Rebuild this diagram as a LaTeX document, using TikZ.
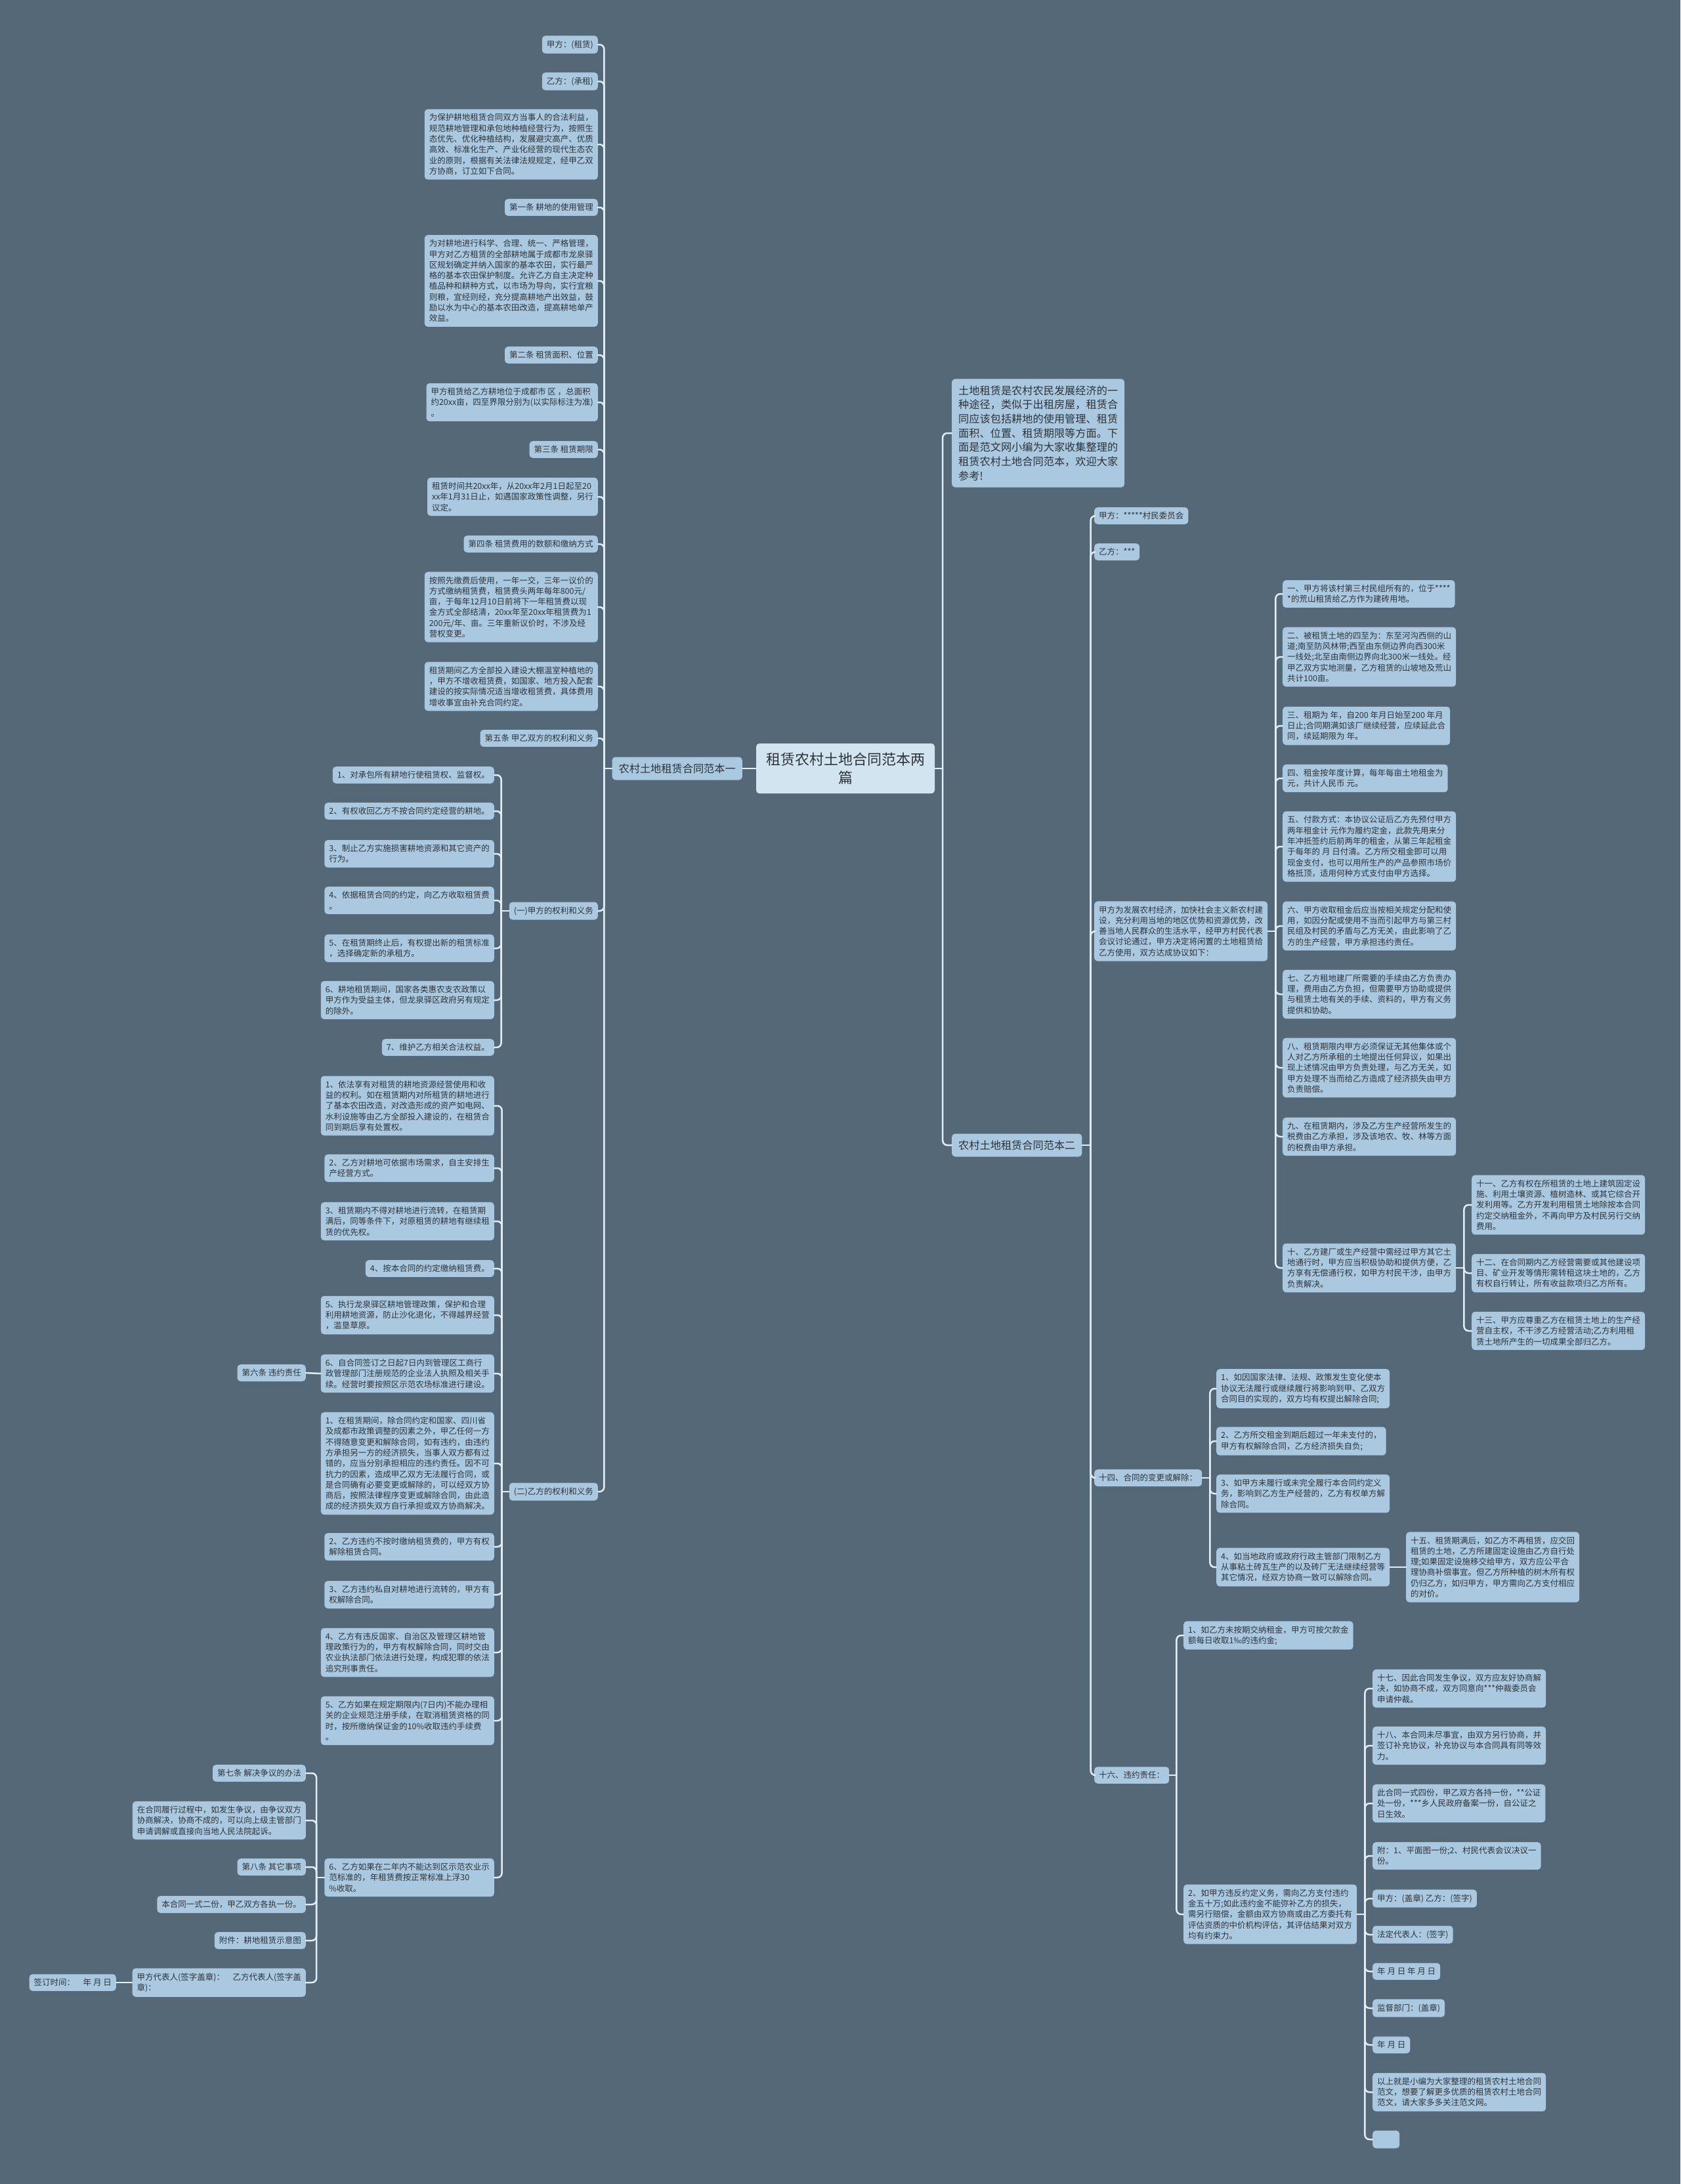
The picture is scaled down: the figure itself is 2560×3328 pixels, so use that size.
\documentclass[tikz,border=0pt]{standalone}
\usepackage{fontspec}
\setmainfont{Noto Sans CJK SC}
\usepackage{tikz}
\usetikzlibrary{positioning}
\definecolor{bgslate}{HTML}{556878}
\definecolor{boxblue}{HTML}{AAC8E0}
\definecolor{rootblue}{HTML}{D3E4F1}
\definecolor{linkwhite}{HTML}{E2EEF5}
\definecolor{inkgrey}{HTML}{2E3338}

\begin{document}
\begin{tikzpicture}[
  x=1pt, y=-1pt,
  leafbox/.style={fill=boxblue, rounded corners=5pt, align=left, text=inkgrey,
    inner xsep=7pt, inner ysep=7pt, font=\fontsize{12.5}{16.3}\selectfont},
  topicbox/.style={leafbox, inner xsep=10pt, inner ysep=10pt,
    font=\fontsize{16.2}{21.7}\selectfont},
  rootbox/.style={leafbox, fill=rootblue, align=center, inner xsep=15pt,
    inner ysep=14pt, font=\fontsize{22}{28}\selectfont},
  link/.style={draw=linkwhite, line width=2.5pt, rounded corners=7pt, line cap=round}
]
  \useasboundingbox (0,0) rectangle (2560,3328);
  \fill[bgslate] (0,0) rectangle (2560,3328);

  % Root and main branches
  \node[rootbox] (root) at (1288,1171) {租赁农村土地合同范本两\\篇};
  \node[topicbox, anchor=east] (fbone) at (1131,1171) {农村土地租赁合同范本一};
  \node[topicbox, anchor=west] (intro) at (1450,660) {土地租赁是农村农民发展经济的一\\种途径，类似于出租房屋，租赁合\\同应该包括耕地的使用管理、租赁\\面积、位置、租赁期限等方面。下\\面是范文网小编为大家收集整理的\\租赁农村土地合同范本，欢迎大家\\参考!};
  \node[topicbox, anchor=west] (fbtwo) at (1450,1745) {农村土地租赁合同范本二};

  % Left: clauses of contract one
  \node[leafbox, anchor=east] (lA) at (911,68) {甲方：(租赁)};
  \node[leafbox, anchor=east] (lB) at (911,124) {乙方：(承租)};
  \node[leafbox, anchor=east] (lC) at (911,220) {为保护耕地租赁合同双方当事人的合法利益，\\规范耕地管理和承包地种植经营行为，按照生\\态优先、优化种植结构，发展避灾高产、优质\\高效、标准化生产、产业化经营的现代生态农\\业的原则，根据有关法律法规规定，经甲乙双\\方协商，订立如下合同。};
  \node[leafbox, anchor=east] (lD) at (911,316) {第一条 耕地的使用管理};
  \node[leafbox, anchor=east] (lE) at (911,428) {为对耕地进行科学、合理、统一、严格管理，\\甲方对乙方租赁的全部耕地属于成都市龙泉驿\\区规划确定并纳入国家的基本农田，实行最严\\格的基本农田保护制度。允许乙方自主决定种\\植品种和耕种方式，以市场为导向，实行宜粮\\则粮，宜经则经，充分提高耕地产出效益，鼓\\励以水为中心的基本农田改造，提高耕地单产\\效益。};
  \node[leafbox, anchor=east] (lF) at (911,541) {第二条 租赁面积、位置};
  \node[leafbox, anchor=east] (lG) at (911,613) {甲方租赁给乙方耕地位于成都市 区 ，总面积\\约20xx亩，四至界限分别为(以实际标注为准)\\。};
  \node[leafbox, anchor=east] (lH) at (911,685) {第三条 租赁期限};
  \node[leafbox, anchor=east] (lI) at (911,757) {租赁时间共20xx年，从20xx年2月1日起至20\\xx年1月31日止，如遇国家政策性调整，另行\\议定。};
  \node[leafbox, anchor=east] (lJ) at (911,829) {第四条 租赁费用的数额和缴纳方式};
  \node[leafbox, anchor=east] (lK) at (911,925) {按照先缴费后使用，一年一交，三年一议价的\\方式缴纳租赁费，租赁费头两年每年800元/\\亩，于每年12月10日前将下一年租赁费以现\\金方式全部结清，20xx年至20xx年租赁费为1\\200元/年、亩。三年重新议价时，不涉及经\\营权变更。};
  \node[leafbox, anchor=east] (lL) at (911,1046) {租赁期间乙方全部投入建设大棚温室种植地的\\，甲方不增收租赁费，如国家、地方投入配套\\建设的按实际情况适当增收租赁费，具体费用\\增收事宜由补充合同约定。};
  \node[leafbox, anchor=east] (lM) at (911,1125) {第五条 甲乙双方的权利和义务};
  \node[leafbox, anchor=east] (lN) at (911,1388) {(一)甲方的权利和义务};
  \node[leafbox, anchor=east] (lO) at (911,2273) {(二)乙方的权利和义务};

  % (一) items
  \node[leafbox, anchor=east] (aA) at (753,1181) {1、对承包所有耕地行使租赁权、监督权。};
  \node[leafbox, anchor=east] (aB) at (753,1236) {2、有权收回乙方不按合同约定经营的耕地。};
  \node[leafbox, anchor=east] (aC) at (753,1301) {3、制止乙方实施损害耕地资源和其它资产的\\行为。};
  \node[leafbox, anchor=east] (aD) at (753,1372) {4、依据租赁合同的约定，向乙方收取租赁费\\。};
  \node[leafbox, anchor=east] (aE) at (753,1445) {5、在租赁期终止后，有权提出新的租赁标准\\，选择确定新的承租方。};
  \node[leafbox, anchor=east] (aF) at (753,1524) {6、耕地租赁期间，国家各类惠农支农政策以\\甲方作为受益主体，但龙泉驿区政府另有规定\\的除外。};
  \node[leafbox, anchor=east] (aG) at (753,1596) {7、维护乙方相关合法权益。};

  % (二) items
  \node[leafbox, anchor=east] (bA) at (753,1685) {1、依法享有对租赁的耕地资源经营使用和收\\益的权利。如在租赁期内对所租赁的耕地进行\\了基本农田改造，对改造形成的资产如电网、\\水利设施等由乙方全部投入建设的，在租赁合\\同到期后享有处置权。};
  \node[leafbox, anchor=east] (bB) at (753,1780) {2、乙方对耕地可依据市场需求，自主安排生\\产经营方式。};
  \node[leafbox, anchor=east] (bC) at (753,1861) {3、租赁期内不得对耕地进行流转，在租赁期\\满后，同等条件下，对原租赁的耕地有继续租\\赁的优先权。};
  \node[leafbox, anchor=east] (bD) at (753,1933) {4、按本合同的约定缴纳租赁费。};
  \node[leafbox, anchor=east] (bE) at (753,2004) {5、执行龙泉驿区耕地管理政策，保护和合理\\利用耕地资源，防止沙化退化，不得越界经营\\，滥垦草原。};
  \node[leafbox, anchor=east] (bF) at (753,2093) {6、自合同签订之日起7日内到管理区工商行\\政管理部门注册规范的企业法人执照及相关手\\续。经营时要按照区示范农场标准进行建设。};
  \node[leafbox, anchor=east] (bG) at (753,2230) {1、在租赁期间，除合同约定和国家、四川省\\及成都市政策调整的因素之外，甲乙任何一方\\不得随意变更和解除合同，如有违约，由违约\\方承担另一方的经济损失，当事人双方都有过\\错的，应当分别承担相应的违约责任。因不可\\抗力的因素，造成甲乙双方无法履行合同，或\\是合同确有必要变更或解除的，可以经双方协\\商后，按照法律程序变更或解除合同，由此造\\成的经济损失双方自行承担或双方协商解决。};
  \node[leafbox, anchor=east] (bH) at (753,2357) {2、乙方违约不按时缴纳租赁费的，甲方有权\\解除租赁合同。};
  \node[leafbox, anchor=east] (bI) at (753,2430) {3、乙方违约私自对耕地进行流转的，甲方有\\权解除合同。};
  \node[leafbox, anchor=east] (bJ) at (753,2518) {4、乙方有违反国家、自治区及管理区耕地管\\理政策行为的，甲方有权解除合同，同时交由\\农业执法部门依法进行处理，构成犯罪的依法\\追究刑事责任。};
  \node[leafbox, anchor=east] (bK) at (753,2622) {5、乙方如果在规定期限内(7日内)不能办理相\\关的企业规范注册手续，在取消租赁资格的同\\时，按所缴纳保证金的10\%收取违约手续费\\。};
  \node[leafbox, anchor=east] (bL) at (753,2861) {6、乙方如果在二年内不能达到区示范农业示\\范标准的，年租赁费按正常标准上浮30\\\%收取。};

  % far left
  \node[leafbox, anchor=east] (cA) at (466,2092) {第六条 违约责任};
  \node[leafbox, anchor=east] (cB) at (466,2702) {第七条 解决争议的办法};
  \node[leafbox, anchor=east] (cC) at (466,2774) {在合同履行过程中，如发生争议，由争议双方\\协商解决，协商不成的，可以向上级主管部门\\申请调解或直接向当地人民法院起诉。};
  \node[leafbox, anchor=east] (cD) at (466,2845) {第八条 其它事项};
  \node[leafbox, anchor=east] (cE) at (466,2902) {本合同一式二份，甲乙双方各执一份。};
  \node[leafbox, anchor=east] (cF) at (466,2957) {附件：耕地租赁示意图};
  \node[leafbox, anchor=east] (cG) at (466,3021) {甲方代表人(签字盖章)：　乙方代表人(签字盖\\章)：};
  \node[leafbox, anchor=east] (cH) at (177,3021) {签订时间：　年 月 日};

  % Right: contract two
  \node[leafbox, anchor=west] (rA) at (1667,786) {甲方：*****村民委员会};
  \node[leafbox, anchor=west] (rB) at (1667,841) {乙方：***};
  \node[leafbox, anchor=west] (rC) at (1667,1419) {甲方为发展农村经济，加快社会主义新农村建\\设，充分利用当地的地区优势和资源优势，改\\善当地人民群众的生活水平，经甲方村民代表\\会议讨论通过，甲方决定将闲置的土地租赁给\\乙方使用，双方达成协议如下：};
  \node[leafbox, anchor=west] (rD) at (1667,2252) {十四、合同的变更或解除：};
  \node[leafbox, anchor=west] (rE) at (1667,2705) {十六、违约责任：};

  \node[leafbox, anchor=west] (sA) at (1954,905) {一、甲方将该村第三村民组所有的，位于****\\*的荒山租赁给乙方作为建砖用地。};
  \node[leafbox, anchor=west] (sB) at (1954,1001) {二、被租赁土地的四至为：东至河沟西侧的山\\道;南至防风林带;西至由东侧边界向西300米\\一线处;北至由南侧边界向北300米一线处。经\\甲乙双方实地测量，乙方租赁的山坡地及荒山\\共计100亩。};
  \node[leafbox, anchor=west] (sC) at (1954,1106) {三、租期为 年，自200 年月日始至200 年月\\日止;合同期满如该厂继续经营，应续延此合\\同，续延期限为 年。};
  \node[leafbox, anchor=west] (sD) at (1954,1186) {四、租金按年度计算，每年每亩土地租金为\\元，共计人民币 元。};
  \node[leafbox, anchor=west] (sE) at (1954,1290) {五、付款方式：本协议公证后乙方先预付甲方\\两年租金计 元作为履约定金，此款先用来分\\年冲抵签约后前两年的租金，从第三年起租金\\于每年的 月 日付清。乙方所交租金即可以用\\现金支付，也可以用所生产的产品参照市场价\\格抵顶，适用何种方式支付由甲方选择。};
  \node[leafbox, anchor=west] (sF) at (1954,1411) {六、甲方收取租金后应当按相关规定分配和使\\用，如因分配或使用不当而引起甲方与第三村\\民组及村民的矛盾与乙方无关，由此影响了乙\\方的生产经营，甲方承担违约责任。};
  \node[leafbox, anchor=west] (sG) at (1954,1515) {七、乙方租地建厂所需要的手续由乙方负责办\\理，费用由乙方负担，但需要甲方协助或提供\\与租赁土地有关的手续、资料的，甲方有义务\\提供和协助。};
  \node[leafbox, anchor=west] (sH) at (1954,1627) {八、租赁期限内甲方必须保证无其他集体或个\\人对乙方所承租的土地提出任何异议，如果出\\现上述情况由甲方负责处理，与乙方无关，如\\甲方处理不当而给乙方造成了经济损失由甲方\\负责赔偿。};
  \node[leafbox, anchor=west] (sI) at (1954,1732) {九、在租赁期内，涉及乙方生产经营所发生的\\税费由乙方承担，涉及该地农、牧、林等方面\\的税费由甲方承担。};
  \node[leafbox, anchor=west] (sJ) at (1954,1932) {十、乙方建厂或生产经营中需经过甲方其它土\\地通行时，甲方应当积极协助和提供方便，乙\\方享有无偿通行权，如甲方村民干涉，由甲方\\负责解决。};

  \node[leafbox, anchor=west] (tA) at (2242,1836) {十一、乙方有权在所租赁的土地上建筑固定设\\施、利用土壤资源、植树造林、或其它综合开\\发利用等。乙方开发利用租赁土地除按本合同\\约定交纳租金外，不再向甲方及村民另行交纳\\费用。};
  \node[leafbox, anchor=west] (tB) at (2242,1940) {十二、在合同期内乙方经营需要或其他建设项\\目、矿业开发等情形需转租这块土地的，乙方\\有权自行转让，所有收益款项归乙方所有。};
  \node[leafbox, anchor=west] (tC) at (2242,2028) {十三、甲方应尊重乙方在租赁土地上的生产经\\营自主权，不干涉乙方经营活动;乙方利用租\\赁土地所产生的一切成果全部归乙方。};

  \node[leafbox, anchor=west] (uA) at (1853,2116) {1、如因国家法律、法规、政策发生变化使本\\协议无法履行或继续履行将影响到甲、乙双方\\合同目的实现的，双方均有权提出解除合同;};
  \node[leafbox, anchor=west] (uB) at (1853,2196) {2、乙方所交租金到期后超过一年未支付的，\\甲方有权解除合同，乙方经济损失自负;};
  \node[leafbox, anchor=west] (uC) at (1853,2276) {3、如甲方未履行或未完全履行本合同约定义\\务，影响到乙方生产经营的，乙方有权单方解\\除合同。};
  \node[leafbox, anchor=west] (uD) at (1853,2388) {4、如当地政府或政府行政主管部门限制乙方\\从事粘土砖瓦生产的以及砖厂无法继续经营等\\其它情况，经双方协商一致可以解除合同。};
  \node[leafbox, anchor=west] (vA) at (2142,2388) {十五、租赁期满后，如乙方不再租赁，应交回\\租赁的土地，乙方所建固定设施由乙方自行处\\理;如果固定设施移交给甲方，双方应公平合\\理协商补偿事宜。但乙方所种植的树木所有权\\仍归乙方，如归甲方，甲方需向乙方支付相应\\的对价。};

  \node[leafbox, anchor=west] (wA) at (1803,2492) {1、如乙方未按期交纳租金，甲方可按欠款金\\额每日收取1‰的违约金;};
  \node[leafbox, anchor=west] (wB) at (1803,2917) {2、如甲方违反约定义务，需向乙方支付违约\\金五十万;如此违约金不能弥补乙方的损失，\\需另行赔偿，金额由双方协商或由乙方委托有\\评估资质的中价机构评估，其评估结果对双方\\均有约束力。};

  \node[leafbox, anchor=west] (xA) at (2091,2573) {十七、因此合同发生争议，双方应友好协商解\\决，如协商不成，双方同意向***仲裁委员会\\申请仲裁。};
  \node[leafbox, anchor=west] (xB) at (2091,2660) {十八、本合同未尽事宜，由双方另行协商，并\\签订补充协议，补充协议与本合同具有同等效\\力。};
  \node[leafbox, anchor=west] (xC) at (2091,2748) {此合同一式四份，甲乙双方各持一份，**公证\\处一份，***乡人民政府备案一份，自公证之\\日生效。};
  \node[leafbox, anchor=west] (xD) at (2091,2828) {附：1、平面图一份;2、村民代表会议决议一\\份。};
  \node[leafbox, anchor=west] (xE) at (2091,2893) {甲方：(盖章) 乙方：(签字)};
  \node[leafbox, anchor=west] (xF) at (2091,2948) {法定代表人：(签字)};
  \node[leafbox, anchor=west] (xG) at (2091,3004) {年 月 日 年 月 日};
  \node[leafbox, anchor=west] (xH) at (2091,3060) {监督部门：(盖章)};
  \node[leafbox, anchor=west] (xI) at (2091,3116) {年 月 日};
  \node[leafbox, anchor=west] (xJ) at (2091,3188) {以上就是小编为大家整理的租赁农村土地合同\\范文，想要了解更多优质的租赁农村土地合同\\范文，请大家多多关注范文网。};
  \node[leafbox, anchor=west, minimum width=41pt, minimum height=27pt] (xK) at (2091,3260) {};

  % Connectors
  \draw[link] (root.west) -- (fbone.east);
  \draw[link] (root.east) -- ++(12,0);
  \foreach \c in {intro,fbtwo}
    \draw[link] (\c.west) -| ([xshift=12pt]root.east);

  \draw[link] (fbone.west) -- ++(-12,0);
  \foreach \c in {lA,lB,lC,lD,lE,lF,lG,lH,lI,lJ,lK,lL,lM,lN,lO}
    \draw[link] (\c.east) -| ([xshift=-12pt]fbone.west);
  \draw[link] (lN.west) -- ++(-12,0);
  \foreach \c in {aA,aB,aC,aD,aE,aF,aG}
    \draw[link] (\c.east) -| ([xshift=-12pt]lN.west);
  \draw[link] (lO.west) -- ++(-11,0);
  \foreach \c in {bA,bB,bC,bD,bE,bF,bG,bH,bI,bJ,bK,bL}
    \draw[link] (\c.east) -| ([xshift=-11pt]lO.west);
  \draw[link] (bF.west) -- (cA.east);
  \draw[link] (bL.west) -- ++(-12,0);
  \foreach \c in {cB,cC,cD,cE,cF,cG}
    \draw[link] (\c.east) -| ([xshift=-12pt]bL.west);
  \draw[link] (cG.west) -- (cH.east);

  \draw[link] (fbtwo.east) -- ++(13,0);
  \foreach \c in {rA,rB,rC,rD,rE}
    \draw[link] (\c.west) -| ([xshift=13pt]fbtwo.east);
  \draw[link] (rC.east) -- ++(12,0);
  \foreach \c in {sA,sB,sC,sD,sE,sF,sG,sH,sI,sJ}
    \draw[link] (\c.west) -| ([xshift=12pt]rC.east);
  \draw[link] (sJ.east) -- ++(12,0);
  \foreach \c in {tA,tB,tC}
    \draw[link] (\c.west) -| ([xshift=12pt]sJ.east);
  \draw[link] (rD.east) -- ++(12,0);
  \foreach \c in {uA,uB,uC,uD}
    \draw[link] (\c.west) -| ([xshift=12pt]rD.east);
  \draw[link] (uD.east) -- (vA.west);
  \draw[link] (rE.east) -- ++(11,0);
  \foreach \c in {wA,wB}
    \draw[link] (\c.west) -| ([xshift=11pt]rE.east);
  \draw[link] (wB.east) -- ++(12,0);
  \foreach \c in {xA,xB,xC,xD,xE,xF,xG,xH,xI,xJ,xK}
    \draw[link] (\c.west) -| ([xshift=12pt]wB.east);
\end{tikzpicture}
\end{document}
